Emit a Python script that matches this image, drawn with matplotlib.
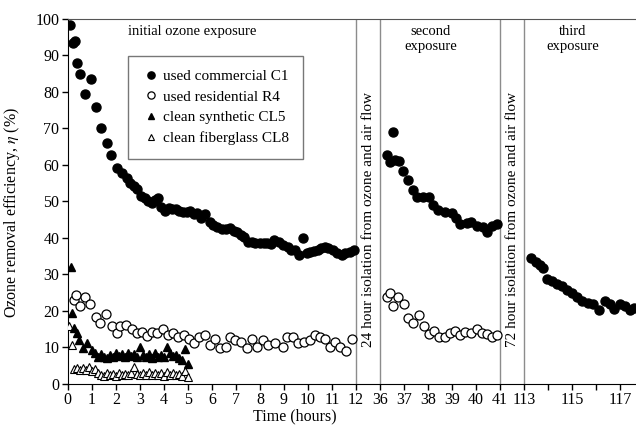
import numpy as np
import matplotlib
matplotlib.use("Agg")
import matplotlib.pyplot as plt

plt.rcParams['font.family'] = ['Liberation Serif', 'DejaVu Serif']
plt.rcParams['mathtext.fontset'] = 'stix'

# --- data (time in hours, efficiency in %) ---
# initial exposure
c1_t1 = [0.1, 0.2, 0.32, 0.4, 0.51, 0.7, 0.96, 1.18, 1.37, 1.62, 1.79, 2.04, 2.25, 2.45, 2.6,
         2.75, 2.9, 3.05, 3.2, 3.35, 3.5, 3.65, 3.77, 3.9, 4.05, 4.2, 4.35, 4.5, 4.65, 4.8,
         4.95, 5.1, 5.25, 5.4, 5.55, 5.7, 5.9, 6.05, 6.2, 6.4, 6.6, 6.75, 6.9, 7.05, 7.2,
         7.35, 7.5, 7.65, 7.8, 8.0, 8.15, 8.3, 8.45, 8.6, 8.8, 8.97, 9.15, 9.3, 9.45, 9.63,
         9.8, 9.95, 10.1, 10.25, 10.4, 10.55, 10.7, 10.85, 11.05, 11.2, 11.4, 11.55, 11.75, 11.9]
c1_v1 = [98.2, 93.5, 94, 88, 85, 79.4, 83.5, 76, 70, 66, 62.7, 59.3, 57.7, 56.3, 55,
         54.2, 53.5, 51.5, 51, 50, 49.5, 50.5, 51, 48.5, 47.5, 48.3, 48, 47.8, 47.5, 47.2,
         47, 47.3, 46.5, 46.8, 45.5, 46.5, 44.5, 43.5, 43, 42.5, 42.5, 42.7, 42, 41.5, 40.8,
         40.2, 39, 38.8, 38.6, 38.6, 38.6, 38.6, 38.3, 39.4, 38.8, 38, 37.5, 36.8, 36.7, 35.3,
         40, 35.8, 36.2, 36.5, 36.7, 37.2, 37.6, 37.2, 36.7, 36, 35.3, 35.8, 36.2, 36.7]

r4_t1 = [0.26, 0.35, 0.51, 0.72, 0.93, 1.16, 1.34, 1.6, 1.83, 2.04, 2.18, 2.43, 2.66, 2.87,
         3.08, 3.29, 3.5, 3.73, 3.98, 4.19, 4.4, 4.6, 4.84, 5.06, 5.26, 5.48, 5.71, 5.92,
         6.13, 6.34, 6.59, 6.75, 6.96, 7.2, 7.45, 7.66, 7.89, 8.14, 8.35, 8.63, 8.97, 9.11,
         9.39, 9.6, 9.83, 10.08, 10.29, 10.5, 10.7, 10.9, 11.12, 11.33, 11.58, 11.82]
r4_v1 = [23, 24.4, 21.4, 23.9, 21.9, 18.3, 16.6, 19.1, 15.9, 13.9, 15.9, 16.2, 15, 14.1,
         14.3, 13.2, 14.3, 13.9, 15, 13.4, 14.1, 13, 13.4, 12.2, 11.3, 13, 13.4, 10.7,
         12.2, 9.8, 10.2, 13, 12.1, 11.6, 9.8, 12.2, 10.2, 12.1, 10.7, 11.1, 10.2, 12.8,
         13, 11.1, 11.6, 12.1, 13.4, 12.8, 12.2, 10.2, 11.6, 10.2, 9.1, 12.2]

cl5_t = [0.12, 0.17, 0.26, 0.37, 0.48, 0.62, 0.82, 1.0, 1.12, 1.25, 1.38, 1.5, 1.62, 1.75,
         1.88, 2.0, 2.12, 2.25, 2.38, 2.5, 2.62, 2.75, 2.88, 3.0, 3.12, 3.25, 3.38, 3.5,
         3.62, 3.75, 3.88, 4.0, 4.12, 4.25, 4.38, 4.5, 4.62, 4.75, 4.88, 5.0]
cl5_v = [32.1, 19.4, 15.3, 13.9, 12, 9.8, 11.1, 9.3, 8.5, 7.5, 8.2, 7.5, 7, 8,
         7.3, 8.5, 7.8, 8.3, 7.5, 8.6, 7.8, 8.2, 7.5, 10, 8, 7.5, 8.2, 7.2,
         8.5, 7.5, 8, 7.4, 10, 8.5, 7.6, 8, 7.2, 6.5, 9.5, 5.5]

cl8_t = [0.07, 0.17, 0.25, 0.37, 0.5, 0.62, 0.75, 0.88, 1.0, 1.12, 1.25, 1.38, 1.5, 1.62,
         1.75, 1.88, 2.0, 2.12, 2.25, 2.38, 2.5, 2.62, 2.75, 2.88, 3.0, 3.12, 3.25, 3.38,
         3.5, 3.62, 3.75, 3.88, 4.0, 4.12, 4.25, 4.38, 4.5, 4.62, 4.75, 4.88, 5.0]
cl8_v = [15.9, 10.7, 4.2, 4.5, 3.8, 4.5, 3.9, 4.6, 3.5, 4.2, 3, 2.5, 2.2, 3,
         2.4, 2.8, 2.3, 3, 2.5, 2.8, 2.4, 3, 4.6, 2.8, 2.4, 3, 2.5, 3.2,
         2.5, 3, 2.4, 3, 2.3, 3.2, 2.6, 3, 2.4, 2.8, 2.2, 3.5, 2]

# second exposure
c1_t2 = [36.3, 36.41, 36.52, 36.62, 36.8, 36.97, 37.17, 37.36, 37.55, 37.8, 38.05, 38.2,
         38.42, 38.7, 38.98, 39.16, 39.33, 39.6, 39.8, 40.02, 40.27, 40.44, 40.65, 40.85]
c1_v2 = [62.7, 60.9, 68.9, 61.4, 61.1, 58.4, 55.9, 53.2, 51.3, 51.1, 51.3, 49,
         47.7, 47.2, 46.8, 45.4, 43.8, 44, 44.5, 43.3, 43.1, 41.7, 43.3, 43.8]

r4_t2 = [36.3, 36.42, 36.55, 36.76, 37.0, 37.17, 37.38, 37.62, 37.83, 38.03, 38.25, 38.45,
         38.7, 38.9, 39.12, 39.33, 39.54, 39.77, 40.02, 40.23, 40.44, 40.65, 40.88]
r4_v2 = [23.9, 24.8, 21.4, 23.9, 21.9, 18.2, 16.6, 18.9, 15.9, 13.7, 14.6, 12.8,
         13.0, 14.1, 14.6, 13.4, 14.3, 14.1, 15.0, 13.9, 13.7, 12.8, 13.4]

# third exposure
c1_t3 = [113.3, 113.47, 113.65, 113.8, 113.93, 114.14, 114.35, 114.55, 114.76, 114.97,
         115.18, 115.39, 115.67, 115.88, 116.12, 116.36, 116.57, 116.75, 116.99, 117.2,
         117.4, 117.55]
c1_v3 = [34.4, 33.5, 32.6, 31.7, 28.7, 28.3, 27.5, 26.8, 25.8, 24.9,
         23.8, 22.6, 22.2, 22.0, 20.3, 22.6, 22.0, 20.5, 22.0, 21.5,
         20.3, 20.8]

tick_hours = [0, 1, 2, 3, 4, 5, 6, 7, 8, 9, 10, 11, 12, 36, 37, 38, 39, 40, 41,
              113, 114, 115, 116, 117]
tick_labels = [str(h) if h not in (114, 116) else '' for h in tick_hours]


def to_axis(t):
    # broken time axis: each isolation period is squeezed into one hour of width
    t = np.asarray(t, float)
    return np.where(t < 24, t, np.where(t < 100, t - 23, t - 94))


fig = plt.figure(figsize=(6.36, 4.26), dpi=100)
ax = fig.add_axes([0.1065, 0.0986, 0.8935, 0.857])

ms = 6.5
filled_c = dict(marker='o', ls='none', color='black', ms=ms)
open_c = dict(marker='o', ls='none', mfc='white', mec='black', mew=0.9, ms=ms)
filled_t = dict(marker='^', ls='none', color='black', ms=5.8)
open_t = dict(marker='^', ls='none', mfc='white', mec='black', mew=0.8, ms=5.8)

ax.plot(to_axis(cl8_t), cl8_v, label='clean fiberglass CL8', zorder=3, **open_t)
ax.plot(to_axis(cl5_t), cl5_v, label='clean synthetic CL5', zorder=3, **filled_t)
ax.plot(to_axis(r4_t1), r4_v1, label='used residential R4', zorder=3, **open_c)
ax.plot(to_axis(c1_t1), c1_v1, label='used commercial C1', zorder=3, **filled_c)
ax.plot(to_axis(r4_t2), r4_v2, zorder=3, **open_c)
ax.plot(to_axis(c1_t2), c1_v2, zorder=3, **filled_c)
ax.plot(to_axis(c1_t3), c1_v3, zorder=3, **filled_c)

# isolation period boundaries
for h in [12, 36, 41, 113]:
    ax.axvline(to_axis(h), color='#8c8c8c', lw=1.0, zorder=1)

ax.text(to_axis(12) + 0.5, 45, '24 hour isolation from ozone and air flow',
        rotation=90, ha='center', va='center', fontsize=11)
ax.text(to_axis(41) + 0.5, 45, '72 hour isolation from ozone and air flow',
        rotation=90, ha='center', va='center', fontsize=11)
ax.text(5.2, 96.6, 'initial ozone exposure', ha='center', va='center', fontsize=10.5)
ax.text(15.1, 94.4, 'second\nexposure', ha='center', va='center', fontsize=10.5,
        linespacing=1.2)
ax.text(21.0, 94.4, 'third\nexposure', ha='center', va='center', fontsize=10.5,
        linespacing=1.2)

ax.set_xlim(0, 23.65)
ax.set_ylim(0, 100)
ax.set_yticks(range(0, 101, 10))
ax.set_xticks(to_axis(tick_hours))
ax.set_xticklabels(tick_labels)
ax.tick_params(axis='both', direction='out', length=4, width=1, labelsize=11.5, pad=2)

ax.spines['right'].set_visible(False)
ax.spines['top'].set_color('#555555')

ax.set_xlabel('Time (hours)', fontsize=11.5)
ax.xaxis.set_label_coords(0.4, -0.066)
ax.set_ylabel(r'Ozone removal efficiency, $\eta$ (%)', fontsize=11.5)
ax.yaxis.set_label_coords(-0.08, 0.47)

handles, labels = ax.get_legend_handles_labels()
leg = ax.legend(handles[::-1], labels[::-1], loc='upper left',
                bbox_to_anchor=(0.092, 0.92), fontsize=11, frameon=True,
                fancybox=False, edgecolor='#555555', handletextpad=0.2,
                borderpad=0.9, labelspacing=0.45, markerscale=0.8, handlelength=1.2)
leg.get_frame().set_linewidth(1.0)

fig.savefig('out.png', dpi=100)
